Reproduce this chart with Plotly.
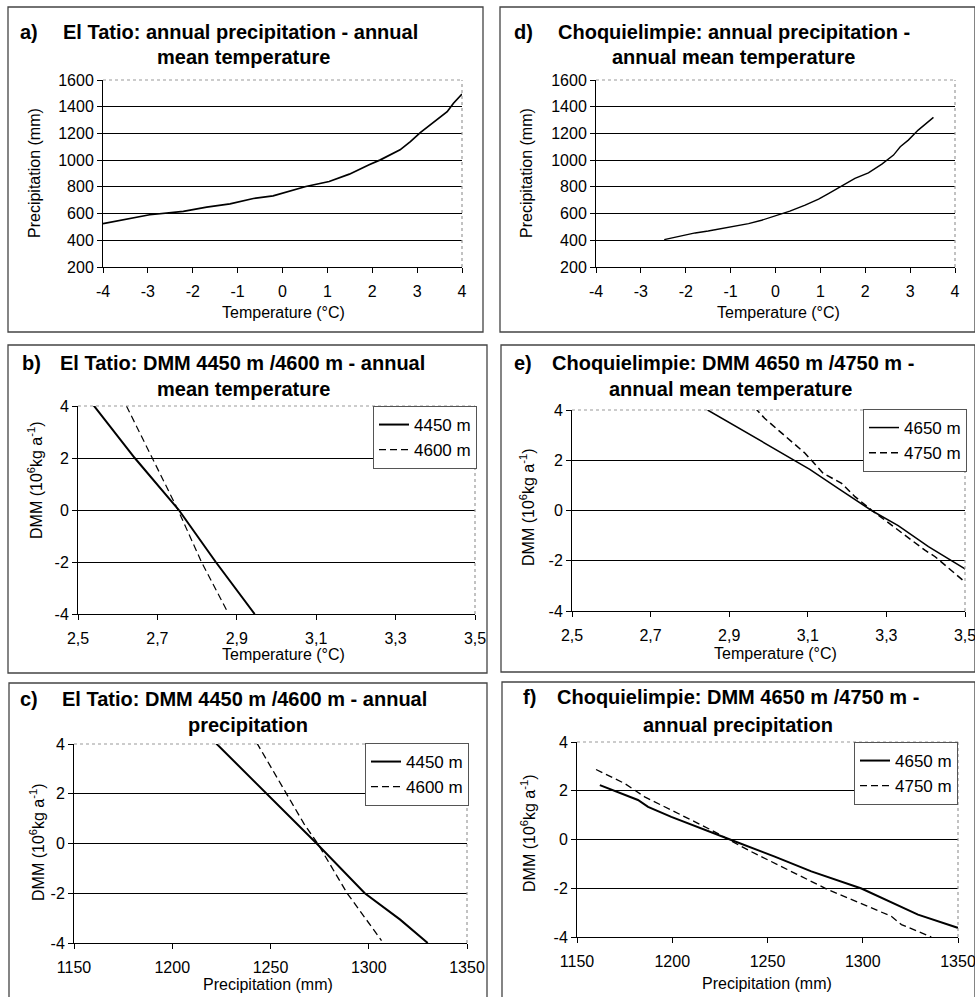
import plotly.graph_objects as go

W, H = 975, 997

# ---------------- data ----------------
a_temp = [-4, -3.33, -2.96, -2.21, -1.69, -1.17, -0.65, -0.21, 0, 0.52, 1.04, 1.49, 1.93, 2.18, 2.62, 2.85, 3.07, 3.44, 3.67, 3.81, 4.0]
a_prec = [524, 566, 591, 616, 648, 673, 713, 733, 753, 803, 840, 895, 965, 1002, 1077, 1139, 1206, 1301, 1363, 1426, 1495]

d_temp = [-2.48, -2.02, -1.79, -1.50, -1.01, -0.60, -0.31, 0.06, 0.32, 0.66, 0.96, 1.18, 1.48, 1.77, 2.07, 2.37, 2.63, 2.78, 2.96, 3.18, 3.52]
d_prec = [405, 442, 455, 470, 500, 525, 550, 588, 618, 663, 708, 750, 808, 863, 905, 970, 1038, 1100, 1150, 1225, 1320]

b_t_4450 = [2.538, 2.643, 2.754, 2.847, 2.945]
b_d_4450 = [4.05, 2.0, 0.0, -2.0, -4.0]
b_t_4600 = [2.622, 2.687, 2.752, 2.811, 2.876]
b_d_4600 = [4.0, 2.0, 0.0, -2.0, -3.9]

e_t_4650 = [2.845, 2.95, 3.067, 3.105, 3.18, 3.262, 3.33, 3.407, 3.51]
e_d_4650 = [4.0, 3.05, 2.0, 1.64, 0.85, 0.0, -0.6, -1.44, -2.42]
e_t_4750 = [2.965, 2.99, 3.093, 3.139, 3.186, 3.22, 3.262, 3.296, 3.339, 3.398, 3.424, 3.51]
e_d_4750 = [4.1, 3.67, 2.28, 1.48, 1.08, 0.55, 0.02, -0.38, -0.92, -1.58, -1.84, -2.98]

c_p_4450 = [1222, 1248, 1273.5, 1298, 1316, 1330]
c_d_4450 = [4.05, 2.0, 0.0, -2.0, -3.06, -4.0]
c_p_4600 = [1243, 1258, 1267, 1274, 1289, 1306.5]
c_d_4600 = [4.05, 2.0, 0.8, 0.0, -2.0, -3.9]

f_p_4650 = [1162, 1182, 1187.3, 1199.5, 1231, 1253.8, 1273, 1299.3, 1329, 1352]
f_d_4650 = [2.23, 1.62, 1.34, 0.93, -0.02, -0.70, -1.31, -2.01, -3.08, -3.68]
f_p_4750 = [1160, 1175, 1185.5, 1192.5, 1206.5, 1220.5, 1230, 1241.5, 1281.8, 1315, 1320.3, 1336]
f_d_4750 = [2.87, 2.30, 1.75, 1.48, 0.93, 0.39, -0.02, -0.5, -2.06, -3.15, -3.49, -4.0]

temp_ticks_a = [-4, -3, -2, -1, 0, 1, 2, 3, 4]
temp_ticks_a_text = ["-4", "-3", "-2", "-1", "0", "1", "2", "3", "4"]
prec_ticks_a = [200, 400, 600, 800, 1000, 1200, 1400, 1600]
temp_ticks_b = [2.5, 2.7, 2.9, 3.1, 3.3, 3.5]
temp_ticks_b_text = ["2,5", "2,7", "2,9", "3,1", "3,3", "3,5"]
prec_ticks_c = [1150, 1200, 1250, 1300, 1350]
dmm_ticks = [-4, -2, 0, 2, 4]
dmm_ticks_text = ["-4", "-2", "0", "2", "4"]

# ---------------- helpers ----------------
def px(x):
    return x / W

def py(y):
    return 1 - y / H

FONT = "Liberation Sans, Arial, sans-serif"

fig = go.Figure()

panels = {
    "a": ("", (103, 462), (80, 267)),
    "d": ("2", (596, 955), (80, 267)),
    "b": ("3", (78, 475), (406, 614)),
    "e": ("4", (572, 965), (410, 611)),
    "c": ("5", (74, 467), (744, 943)),
    "f": ("6", (577, 958), (742, 937)),
}

legends = {
    "b": ("legend", (349, 477), (406, 461)),
    "e": ("legend2", (837, 967), (409, 460)),
    "c": ("legend3", (341, 469), (743, 794)),
    "f": ("legend4", (823, 958), (742, 792)),
}

def add_line(panel, x, y, name=None, dash="solid", width=1.6, showlegend=False):
    suf = panels[panel][0]
    kw = dict(x=x, y=y, mode="lines", line=dict(color="black", width=width, dash=dash),
              xaxis="x" + suf, yaxis="y" + suf, name=name, showlegend=showlegend,
              hoverinfo="skip")
    if showlegend:
        kw["legend"] = legends[panel][0]
    fig.add_trace(go.Scatter(**kw))

add_line("a", a_temp, a_prec, width=1.7)
add_line("d", d_temp, d_prec, width=1.4)
add_line("b", b_t_4450, b_d_4450, "4450 m", "solid", 2.0, True)
add_line("b", b_t_4600, b_d_4600, "4600 m", "7px,4px", 1.2, True)
add_line("e", e_t_4650, e_d_4650, "4650 m", "solid", 1.5, True)
add_line("e", e_t_4750, e_d_4750, "4750 m", "7px,4px", 1.5, True)
add_line("c", c_p_4450, c_d_4450, "4450 m", "solid", 2.0, True)
add_line("c", c_p_4600, c_d_4600, "4600 m", "7px,4px", 1.3, True)
add_line("f", f_p_4650, f_d_4650, "4650 m", "solid", 2.0, True)
add_line("f", f_p_4750, f_d_4750, "4750 m", "7px,4px", 1.3, True)

layout = dict(
    width=W, height=H, margin=dict(l=0, r=0, t=0, b=0, autoexpand=False),
    paper_bgcolor="white", plot_bgcolor="white",
    font=dict(family=FONT, color="black", size=16),
    showlegend=True,
)

axis_common = dict(showline=True, linecolor="black", linewidth=1, ticks="outside",
                   tickcolor="black", ticklen=5, tickfont=dict(family=FONT, size=16, color="black"),
                   zeroline=False, fixedrange=True, automargin=False, ticklabeloverflow="allow")

xcfg = {
    "a": dict(range=[-4, 4], tickvals=temp_ticks_a, ticktext=temp_ticks_a_text),
    "d": dict(range=[-4, 4], tickvals=temp_ticks_a, ticktext=temp_ticks_a_text),
    "b": dict(range=[2.5, 3.5], tickvals=temp_ticks_b, ticktext=temp_ticks_b_text),
    "e": dict(range=[2.5, 3.5], tickvals=temp_ticks_b, ticktext=temp_ticks_b_text),
    "c": dict(range=[1150, 1350], tickvals=prec_ticks_c),
    "f": dict(range=[1150, 1350], tickvals=prec_ticks_c),
}
ycfg = {
    "a": dict(range=[200, 1600], tickvals=prec_ticks_a),
    "d": dict(range=[200, 1600], tickvals=prec_ticks_a),
    "b": dict(range=[-4, 4], tickvals=dmm_ticks, ticktext=dmm_ticks_text),
    "e": dict(range=[-4, 4], tickvals=dmm_ticks, ticktext=dmm_ticks_text),
    "c": dict(range=[-4, 4], tickvals=dmm_ticks, ticktext=dmm_ticks_text),
    "f": dict(range=[-4, 4], tickvals=dmm_ticks, ticktext=dmm_ticks_text),
}

shapes = []
for p, (suf, (x0, x1), (y0, y1)) in panels.items():
    xa = dict(axis_common, **xcfg[p], domain=[px(x0), px(x1)], anchor="y" + suf,
              showgrid=False, ticklabelstandoff=5)
    ya = dict(axis_common, **ycfg[p], domain=[py(y1), py(y0)], anchor="x" + suf,
              showgrid=True, gridcolor="black", gridwidth=1)
    layout["xaxis" + suf] = xa
    layout["yaxis" + suf] = ya
    shapes.append(dict(type="line", xref="x%s domain" % suf, yref="y%s domain" % suf,
                       x0=0, x1=1, y0=1, y1=1, line=dict(color="#9a9a9a", width=1.2, dash="dot"), layer="above"))
    shapes.append(dict(type="line", xref="x%s domain" % suf, yref="y%s domain" % suf,
                       x0=1, x1=1, y0=0, y1=1, line=dict(color="#9a9a9a", width=1.2, dash="dot"), layer="above"))

boxes = [(8, 7, 483, 332), (500, 7, 975, 332), (8, 345, 487, 673), (501, 345, 975, 672),
         (9, 683, 487, 1000), (502, 682, 975, 1000)]
for (x0, y0, x1, y1) in boxes:
    shapes.append(dict(type="rect", xref="paper", yref="paper", x0=px(x0), x1=px(x1),
                       y0=py(y1), y1=py(y0), line=dict(color="#444", width=1.3), layer="below"))
layout["shapes"] = shapes

for p, (lname, (x0, x1), (y0, y1)) in legends.items():
    layout[lname] = dict(x=px(x1), y=py(y0), xanchor="right", yanchor="top",
                         bgcolor="white", bordercolor="#555", borderwidth=1,
                         font=dict(family=FONT, size=17, color="black"),
                         tracegroupgap=0, itemclick=False, itemdoubleclick=False)

ann = []
def text(x, y, s, size=16, bold=False, angle=0, xanchor="center"):
    ann.append(dict(x=px(x), y=py(y), xref="paper", yref="paper", text=("<b>%s</b>" % s) if bold else s,
                    showarrow=False, xanchor=xanchor, yanchor="middle", textangle=angle,
                    font=dict(family=FONT, size=size, color="black")))

TS = 20
titles = [
    ("a)", 18, 32, "El Tatio: annual precipitation - annual", 240, 32, "mean temperature", 243, 57),
    ("d)", 512, 32, "Choquielimpie: annual precipitation -", 734, 32, "annual mean temperature", 733, 57),
    ("b)", 20, 363, "El Tatio: DMM 4450 m /4600 m - annual", 242, 363, "mean temperature", 243, 389),
    ("e)", 512, 363, "Choquielimpie: DMM 4650 m /4750 m -", 733, 363, "annual mean temperature", 730, 389),
    ("c)", 18, 699, "El Tatio: DMM 4450 m /4600 m - annual", 244, 699, "precipitation", 248, 725),
    ("f)", 521, 697, "Choquielimpie: DMM 4650 m /4750 m -", 738, 697, "annual precipitation", 738, 725),
]
for (lab, lx, ly, t1, x1, y1, t2, x2, y2) in titles:
    text(lx, ly, lab, TS, True, xanchor="left")
    text(x1, y1, t1, TS, True)
    text(x2, y2, t2, TS, True)

text(283, 313, "Temperature (°C)")
text(778, 313, "Temperature (°C)")
text(283, 654, "Temperature (°C)")
text(775, 653, "Temperature (°C)")
text(268, 984, "Precipitation (mm)")
text(767, 983, "Precipitation (mm)")
text(35, 173, "Precipitation (mm)", angle=-90)
text(527, 173, "Precipitation (mm)", angle=-90)
dmm = "DMM (10<sup>6</sup>kg a<sup>-1</sup>)"
text(35, 480, dmm, angle=-90)
text(527, 507, dmm, angle=-90)
text(37, 842, dmm, angle=-90)
text(528, 833, dmm, angle=-90)

layout["annotations"] = ann
fig.update_layout(**layout)

# remove the default page margin so the 975x997 figure fills the window exactly
page_css = "document.body.style.margin='0';document.body.style.overflow='hidden';"
fig.write_html("out.html", post_script=page_css, config={"displayModeBar": False})
